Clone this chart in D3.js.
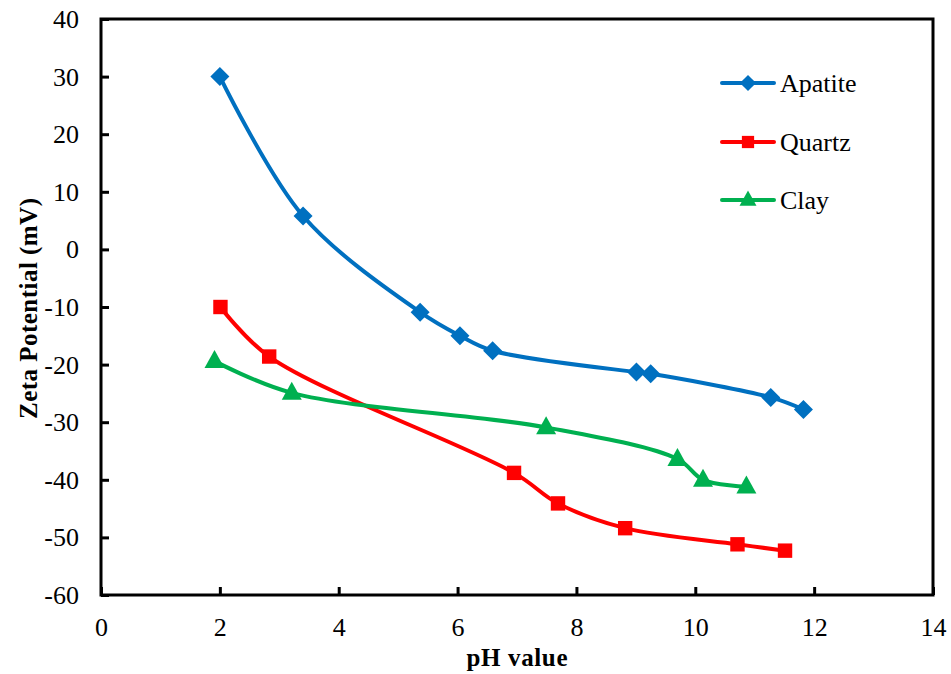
<!DOCTYPE html>
<html><head><meta charset="utf-8">
<script src="https://cdn.jsdelivr.net/npm/d3@7"></script>
<style>body{margin:0;background:#fff}svg{display:block}</style>
</head><body>
<svg id="chart" width="951" height="674" font-family="Liberation Serif"></svg>
<script>
const apatiteX = [2.0, 3.4, 5.37, 6.04, 6.59, 9.01, 9.25, 11.27, 11.82];
const apatiteY = [30, 5.8, -10.9, -15.0, -17.6, -21.3, -21.6, -25.7, -27.8];
const quartzX = [2.01, 2.83, 6.95, 7.69, 8.82, 10.71, 11.51];
const quartzY = [-10, -18.6, -38.8, -44.1, -48.4, -51.2, -52.3];
const clayX = [1.91, 3.21, 7.49, 9.70, 10.13, 10.86];
const clayY = [-19.4, -24.9, -30.9, -36.4, -40.0, -41.2];
const xTicks = [0, 2, 4, 6, 8, 10, 12, 14];
const yTicks = [40, 30, 20, 10, 0, -10, -20, -30, -40, -50, -60];
const seriesNames = ["Apatite", "Quartz", "Clay"];
const seriesColors = ["#0070C0", "#FF0000", "#00B050"];
const seriesSymbols = ["diamond", "square", "triangle"];

const svg = d3.select("#chart");
const L = 101, R = 933, T = 19, B = 595;
const x = d3.scaleLinear().domain([0, 14]).range([L, R]);
const y = d3.scaleLinear().domain([-60, 40]).range([B, T]);
const font = "Liberation Serif";
const tickFont = 26;

const series = [
  apatiteX.map((v, i) => [v, apatiteY[i]]),
  quartzX.map((v, i) => [v, quartzY[i]]),
  clayX.map((v, i) => [v, clayY[i]])
];

// frame
svg.append("rect").attr("x", L).attr("y", T).attr("width", R - L).attr("height", B - T)
  .attr("fill", "none").attr("stroke", "#000").attr("stroke-width", 3);

// y axis ticks (inward)
const yAxis = d3.axisLeft(y).tickValues(yTicks).tickSize(-8).tickPadding(22).tickFormat(d3.format("d"));
const gy = svg.append("g").attr("transform", `translate(${L},0)`).call(yAxis);
gy.attr("font-family", font).attr("font-size", tickFont);
gy.select(".domain").remove();
gy.selectAll(".tick line").attr("stroke", "#000").attr("stroke-width", 3);
gy.selectAll(".tick text").attr("font-family", font).attr("font-size", tickFont).attr("fill", "#000")
  .attr("dy", "0.33em").text(d => d < 0 ? "-" + Math.abs(d) : d);

// x axis ticks (inward)
const xAxis = d3.axisBottom(x).tickValues(xTicks).tickSize(-8).tickPadding(23).tickFormat(d3.format("d"));
const gx = svg.append("g").attr("transform", `translate(0,${B})`).call(xAxis);
gx.attr("font-family", font).attr("font-size", tickFont);
gx.select(".domain").remove();
gx.selectAll(".tick line").attr("stroke", "#000").attr("stroke-width", 3);
gx.selectAll(".tick text").attr("font-family", font).attr("font-size", tickFont).attr("fill", "#000");

// axis titles
svg.append("text").attr("x", 517).attr("y", 666).attr("text-anchor", "middle")
  .attr("font-family", font).attr("font-weight", "bold").attr("font-size", 25)
  .attr("textLength", 101).attr("lengthAdjust", "spacing").text("pH value");
svg.append("text").attr("transform", "translate(37,308.5) rotate(-90)").attr("text-anchor", "middle")
  .attr("font-family", font).attr("font-weight", "bold").attr("font-size", 25)
  .attr("textLength", 221).attr("lengthAdjust", "spacing").text("Zeta Potential (mV)");

const line = d3.line().x(d => x(d[0])).y(d => y(d[1])).curve(d3.curveCatmullRom.alpha(0.5));

function drawMarker(g, type, cx, cy, color, k) {
  if (type === "diamond") {
    const s = 9.5 * k;
    g.append("path").attr("d", `M${cx},${cy - s}L${cx + s},${cy}L${cx},${cy + s}L${cx - s},${cy}Z`).attr("fill", color);
  } else if (type === "square") {
    const s = 7.2 * k;
    g.append("rect").attr("x", cx - s).attr("y", cy - s).attr("width", 2 * s).attr("height", 2 * s).attr("fill", color);
  } else {
    const w = 10 * k, h = 18 * k;
    g.append("path").attr("d", `M${cx},${cy - h * 0.62}L${cx + w},${cy + h * 0.38}L${cx - w},${cy + h * 0.38}Z`).attr("fill", color);
  }
}

series.forEach((data, i) => {
  const g = svg.append("g");
  g.append("path").datum(data).attr("d", line).attr("fill", "none")
    .attr("stroke", seriesColors[i]).attr("stroke-width", 4);
  data.forEach(d => drawMarker(g, seriesSymbols[i], x(d[0]), y(d[1]), seriesColors[i], 1));
});

// legend
const legY = [83, 142, 200];
seriesNames.forEach((name, i) => {
  const g = svg.append("g");
  g.append("line").attr("x1", 722).attr("x2", 774).attr("y1", legY[i]).attr("y2", legY[i])
    .attr("stroke", seriesColors[i]).attr("stroke-width", 4).attr("stroke-linecap", "round");
  drawMarker(g, seriesSymbols[i], 748, legY[i], seriesColors[i], 0.85);
  g.append("text").attr("x", 780).attr("y", legY[i]).attr("dy", "0.33em")
    .attr("font-family", font).attr("font-size", 26).attr("fill", "#000").text(name);
});
</script>
</body></html>
